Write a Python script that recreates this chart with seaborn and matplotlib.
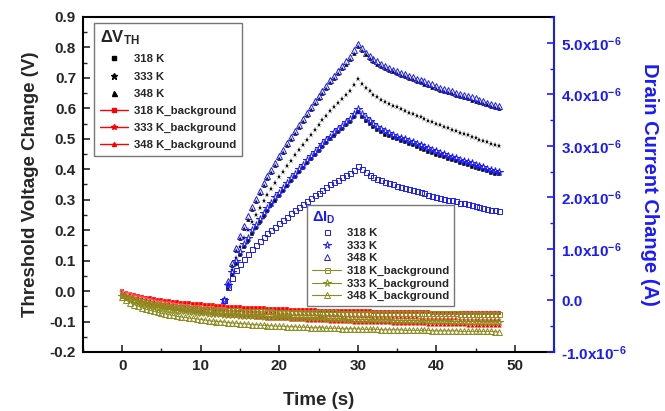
import numpy as np
import matplotlib
matplotlib.use("Agg")
import matplotlib.pyplot as plt
from matplotlib.lines import Line2D
from matplotlib.ticker import MultipleLocator, FuncFormatter
import seaborn as sns

# time grid of the measurement (s), one sample every 0.5 s
time_s = np.arange(0, 48.5, 0.5)
time_id = time_s[26:]          # drain current data starts at 13 s

# threshold voltage change (V)
vth_318 = [
    0.000, -0.007, -0.012, -0.016, -0.020, -0.023, -0.026, -0.028, -0.030, -0.032,
    -0.034, -0.036, -0.037, -0.039, -0.040, -0.042, -0.043, -0.044, -0.045, -0.047,
    -0.048, -0.049, -0.050, -0.051, -0.052, -0.053, -0.055, 0.009, 0.054, 0.089,
    0.118, 0.144, 0.166, 0.189, 0.208, 0.227, 0.247, 0.264, 0.281, 0.297,
    0.313, 0.329, 0.344, 0.360, 0.375, 0.390, 0.405, 0.419, 0.433, 0.446,
    0.460, 0.473, 0.486, 0.498, 0.510, 0.522, 0.533, 0.544, 0.555, 0.571,
    0.587, 0.572, 0.559, 0.548, 0.538, 0.529, 0.521, 0.514, 0.508, 0.503,
    0.498, 0.493, 0.488, 0.483, 0.478, 0.473, 0.468, 0.463, 0.458, 0.453,
    0.448, 0.443, 0.439, 0.434, 0.430, 0.426, 0.421, 0.417, 0.413, 0.409,
    0.404, 0.400, 0.396, 0.393, 0.389, 0.386, 0.383,
]
vth_333 = [
    -0.002, -0.009, -0.014, -0.018, -0.022, -0.025, -0.028, -0.030, -0.032, -0.034,
    -0.036, -0.038, -0.040, -0.041, -0.043, -0.044, -0.046, -0.047, -0.048, -0.050,
    -0.051, -0.052, -0.053, -0.054, -0.055, -0.056, -0.058, 0.016, 0.068, 0.110,
    0.144, 0.174, 0.200, 0.227, 0.250, 0.272, 0.295, 0.315, 0.335, 0.354,
    0.373, 0.391, 0.410, 0.428, 0.446, 0.463, 0.481, 0.497, 0.514, 0.530,
    0.546, 0.561, 0.576, 0.590, 0.604, 0.618, 0.632, 0.644, 0.657, 0.676,
    0.695, 0.680, 0.667, 0.656, 0.645, 0.636, 0.628, 0.620, 0.614, 0.608,
    0.603, 0.597, 0.592, 0.586, 0.581, 0.575, 0.570, 0.565, 0.559, 0.554,
    0.549, 0.544, 0.539, 0.534, 0.529, 0.525, 0.520, 0.515, 0.511, 0.506,
    0.502, 0.497, 0.493, 0.488, 0.484, 0.480, 0.476,
]
vth_348 = [
    -0.004, -0.011, -0.016, -0.021, -0.025, -0.028, -0.031, -0.034, -0.036, -0.038,
    -0.040, -0.042, -0.044, -0.046, -0.047, -0.049, -0.050, -0.052, -0.053, -0.054,
    -0.055, -0.056, -0.057, -0.058, -0.059, -0.060, -0.060, 0.027, 0.087, 0.135,
    0.174, 0.208, 0.238, 0.269, 0.295, 0.321, 0.347, 0.370, 0.392, 0.414,
    0.436, 0.457, 0.478, 0.499, 0.520, 0.539, 0.559, 0.578, 0.597, 0.616,
    0.634, 0.651, 0.668, 0.685, 0.701, 0.717, 0.732, 0.747, 0.762, 0.783,
    0.805, 0.790, 0.777, 0.766, 0.756, 0.747, 0.739, 0.732, 0.726, 0.721,
    0.716, 0.711, 0.706, 0.701, 0.696, 0.691, 0.686, 0.681, 0.676, 0.671,
    0.666, 0.661, 0.657, 0.653, 0.649, 0.645, 0.641, 0.637, 0.633, 0.629,
    0.625, 0.621, 0.617, 0.613, 0.609, 0.605, 0.601,
]

# threshold voltage change, background (V)
vth_bg_318 = [
    0.000, -0.005, -0.009, -0.013, -0.016, -0.019, -0.022, -0.024, -0.026, -0.028,
    -0.030, -0.032, -0.033, -0.035, -0.036, -0.038, -0.039, -0.040, -0.042, -0.043,
    -0.044, -0.045, -0.046, -0.047, -0.048, -0.049, -0.050, -0.051, -0.052, -0.052,
    -0.053, -0.054, -0.055, -0.055, -0.056, -0.057, -0.057, -0.058, -0.058, -0.059,
    -0.059, -0.060, -0.060, -0.061, -0.061, -0.062, -0.062, -0.062, -0.063, -0.063,
    -0.064, -0.064, -0.064, -0.065, -0.065, -0.065, -0.066, -0.066, -0.066, -0.066,
    -0.067, -0.067, -0.067, -0.067, -0.068, -0.068, -0.068, -0.068, -0.069, -0.069,
    -0.069, -0.069, -0.069, -0.070, -0.070, -0.070, -0.070, -0.070, -0.070, -0.071,
    -0.071, -0.071, -0.071, -0.071, -0.071, -0.071, -0.072, -0.072, -0.072, -0.072,
    -0.072, -0.072, -0.072, -0.072, -0.073, -0.073, -0.073,
]
vth_bg_333 = [
    -0.003, -0.009, -0.014, -0.019, -0.023, -0.027, -0.030, -0.033, -0.036, -0.038,
    -0.040, -0.042, -0.044, -0.046, -0.048, -0.049, -0.051, -0.052, -0.054, -0.055,
    -0.057, -0.058, -0.059, -0.060, -0.061, -0.062, -0.063, -0.064, -0.065, -0.066,
    -0.067, -0.068, -0.069, -0.069, -0.070, -0.071, -0.072, -0.072, -0.073, -0.073,
    -0.075, -0.076, -0.076, -0.077, -0.078, -0.078, -0.079, -0.079, -0.080, -0.080,
    -0.081, -0.081, -0.082, -0.082, -0.083, -0.083, -0.084, -0.084, -0.084, -0.085,
    -0.085, -0.086, -0.086, -0.086, -0.087, -0.087, -0.087, -0.088, -0.088, -0.088,
    -0.089, -0.089, -0.089, -0.090, -0.090, -0.090, -0.091, -0.091, -0.091, -0.092,
    -0.092, -0.092, -0.092, -0.093, -0.093, -0.093, -0.094, -0.094, -0.094, -0.094,
    -0.095, -0.095, -0.095, -0.095, -0.096, -0.096, -0.096,
]
vth_bg_348 = [
    -0.006, -0.013, -0.019, -0.024, -0.029, -0.033, -0.037, -0.040, -0.043, -0.046,
    -0.048, -0.051, -0.053, -0.055, -0.057, -0.059, -0.061, -0.063, -0.064, -0.066,
    -0.068, -0.069, -0.070, -0.072, -0.073, -0.074, -0.075, -0.077, -0.078, -0.079,
    -0.080, -0.081, -0.082, -0.083, -0.084, -0.085, -0.086, -0.087, -0.087, -0.088,
    -0.089, -0.090, -0.090, -0.091, -0.092, -0.092, -0.093, -0.094, -0.094, -0.095,
    -0.095, -0.096, -0.096, -0.097, -0.097, -0.098, -0.098, -0.099, -0.099, -0.100,
    -0.100, -0.101, -0.101, -0.101, -0.102, -0.102, -0.103, -0.103, -0.103, -0.104,
    -0.104, -0.104, -0.105, -0.105, -0.105, -0.106, -0.106, -0.106, -0.107, -0.107,
    -0.107, -0.108, -0.108, -0.108, -0.108, -0.109, -0.109, -0.109, -0.110, -0.110,
    -0.110, -0.110, -0.111, -0.111, -0.111, -0.112, -0.112,
]

# drain current change (uA), from 13 s on
id_318 = [
    0.00, 0.26, 0.44, 0.59, 0.70, 0.81, 0.90, 0.99, 1.07, 1.15,
    1.23, 1.30, 1.37, 1.43, 1.50, 1.56, 1.62, 1.69, 1.75, 1.81,
    1.87, 1.93, 1.98, 2.04, 2.09, 2.15, 2.20, 2.25, 2.30, 2.34,
    2.39, 2.44, 2.48, 2.54, 2.61, 2.55, 2.49, 2.44, 2.40, 2.36,
    2.33, 2.30, 2.27, 2.25, 2.23, 2.20, 2.18, 2.16, 2.14, 2.12,
    2.10, 2.08, 2.05, 2.03, 2.01, 1.99, 1.97, 1.95, 1.94, 1.92,
    1.90, 1.89, 1.87, 1.85, 1.83, 1.82, 1.80, 1.78, 1.76, 1.75,
    1.73,
]
id_333 = [
    0.00, 0.29, 0.56, 0.77, 0.94, 1.09, 1.22, 1.36, 1.47, 1.58,
    1.70, 1.80, 1.90, 2.00, 2.09, 2.19, 2.27, 2.37, 2.46, 2.55,
    2.63, 2.72, 2.80, 2.88, 2.96, 3.04, 3.11, 3.18, 3.26, 3.33,
    3.39, 3.46, 3.52, 3.62, 3.71, 3.62, 3.54, 3.48, 3.42, 3.37,
    3.32, 3.28, 3.24, 3.21, 3.18, 3.15, 3.13, 3.10, 3.07, 3.04,
    3.01, 2.98, 2.95, 2.92, 2.89, 2.86, 2.84, 2.81, 2.78, 2.76,
    2.73, 2.71, 2.68, 2.66, 2.63, 2.60, 2.58, 2.56, 2.54, 2.52,
    2.50,
]
id_348 = [
    0.00, 0.38, 0.73, 1.02, 1.25, 1.45, 1.63, 1.81, 1.96, 2.12,
    2.27, 2.41, 2.54, 2.67, 2.80, 2.92, 3.05, 3.17, 3.29, 3.41,
    3.52, 3.64, 3.75, 3.86, 3.97, 4.07, 4.17, 4.27, 4.36, 4.46,
    4.55, 4.64, 4.72, 4.85, 4.98, 4.89, 4.81, 4.75, 4.69, 4.64,
    4.59, 4.55, 4.51, 4.48, 4.45, 4.42, 4.39, 4.36, 4.33, 4.30,
    4.28, 4.25, 4.22, 4.19, 4.16, 4.13, 4.10, 4.08, 4.06, 4.03,
    4.01, 3.99, 3.96, 3.94, 3.92, 3.89, 3.87, 3.84, 3.82, 3.80,
    3.77,
]

# drain current change, background (uA)
id_bg_318 = [
    0.10, 0.07, 0.04, 0.02, 0.00, -0.02, -0.03, -0.05, -0.06, -0.07,
    -0.08, -0.09, -0.10, -0.11, -0.12, -0.12, -0.13, -0.14, -0.14, -0.15,
    -0.16, -0.16, -0.17, -0.17, -0.18, -0.18, -0.18, -0.19, -0.19, -0.19,
    -0.20, -0.20, -0.20, -0.20, -0.21, -0.21, -0.21, -0.21, -0.21, -0.22,
    -0.22, -0.22, -0.22, -0.22, -0.22, -0.22, -0.23, -0.23, -0.23, -0.23,
    -0.23, -0.23, -0.23, -0.23, -0.23, -0.24, -0.24, -0.24, -0.24, -0.24,
    -0.24, -0.24, -0.24, -0.24, -0.24, -0.24, -0.24, -0.24, -0.25, -0.25,
    -0.25, -0.25, -0.25, -0.25, -0.25, -0.25, -0.25, -0.25, -0.25, -0.25,
    -0.25, -0.25, -0.25, -0.25, -0.25, -0.25, -0.26, -0.26, -0.26, -0.26,
    -0.26, -0.26, -0.26, -0.26, -0.26, -0.26, -0.26,
]
id_bg_333 = [
    0.08, 0.04, 0.00, -0.03, -0.05, -0.07, -0.09, -0.11, -0.13, -0.14,
    -0.15, -0.16, -0.18, -0.19, -0.20, -0.21, -0.21, -0.22, -0.23, -0.24,
    -0.24, -0.25, -0.26, -0.26, -0.27, -0.27, -0.28, -0.28, -0.29, -0.29,
    -0.30, -0.30, -0.30, -0.31, -0.31, -0.31, -0.32, -0.32, -0.32, -0.33,
    -0.33, -0.33, -0.33, -0.34, -0.34, -0.34, -0.34, -0.35, -0.35, -0.35,
    -0.35, -0.35, -0.36, -0.36, -0.36, -0.36, -0.36, -0.37, -0.37, -0.37,
    -0.37, -0.37, -0.37, -0.38, -0.38, -0.38, -0.38, -0.38, -0.38, -0.39,
    -0.39, -0.39, -0.39, -0.39, -0.39, -0.39, -0.40, -0.40, -0.40, -0.40,
    -0.40, -0.40, -0.40, -0.40, -0.41, -0.41, -0.41, -0.41, -0.41, -0.41,
    -0.41, -0.41, -0.42, -0.42, -0.42, -0.42, -0.42,
]
id_bg_348 = [
    0.06, 0.01, -0.04, -0.08, -0.11, -0.14, -0.17, -0.19, -0.21, -0.23,
    -0.25, -0.26, -0.28, -0.29, -0.31, -0.32, -0.33, -0.34, -0.35, -0.36,
    -0.37, -0.38, -0.39, -0.40, -0.41, -0.41, -0.42, -0.43, -0.44, -0.44,
    -0.45, -0.45, -0.46, -0.47, -0.47, -0.48, -0.48, -0.49, -0.49, -0.50,
    -0.50, -0.50, -0.51, -0.51, -0.51, -0.52, -0.52, -0.52, -0.53, -0.53,
    -0.53, -0.53, -0.54, -0.54, -0.54, -0.54, -0.55, -0.55, -0.55, -0.55,
    -0.55, -0.56, -0.56, -0.56, -0.56, -0.56, -0.57, -0.57, -0.57, -0.57,
    -0.57, -0.57, -0.58, -0.58, -0.58, -0.58, -0.58, -0.58, -0.58, -0.59,
    -0.59, -0.59, -0.59, -0.59, -0.59, -0.59, -0.60, -0.60, -0.60, -0.60,
    -0.60, -0.60, -0.60, -0.60, -0.60, -0.61, -0.61,
]

temps = ["318 K", "333 K", "348 K"]
markers = ["s", "*", "^"]
msizes = [3.0, 4.8, 3.6]

sns.set_theme(style="ticks")
plt.rcParams["font.family"] = ["Liberation Sans", "DejaVu Sans"]
plt.rcParams["font.weight"] = "bold"
plt.rcParams["mathtext.fontset"] = "custom"
plt.rcParams["mathtext.bf"] = "Liberation Sans:bold"
plt.rcParams["mathtext.rm"] = "Liberation Sans:bold"
plt.rcParams["mathtext.it"] = "Liberation Sans:bold"
plt.rcParams["mathtext.default"] = "bf"

BLUE = "#1a1aff"
OLIVE = "#8c8c1e"
RED = "#ff0000"

fig = plt.figure(figsize=(6.65, 4.11), dpi=100)
ax = fig.add_axes([0.1248, 0.1436, 0.7083, 0.8151])
ax2 = ax.twinx()

vth = [vth_318, vth_333, vth_348]
vth_bg = [vth_bg_318, vth_bg_333, vth_bg_348]
id_main = [id_318, id_333, id_348]
id_bg = [id_bg_318, id_bg_333, id_bg_348]

for i in range(3):
    sns.lineplot(x=time_s, y=vth[i], ax=ax, color="black", marker=markers[i],
                 markersize=msizes[i], markeredgewidth=0.3, linestyle="none",
                 estimator=None, legend=False)
for i in range(3):
    sns.lineplot(x=time_s, y=vth_bg[i], ax=ax, color=RED, lw=1.0,
                 marker=markers[i], markersize=msizes[i] * 0.9,
                 markeredgewidth=0.2, estimator=None, legend=False)

for i in range(3):
    sns.lineplot(x=time_id, y=np.array(id_main[i]) * 1e-6, ax=ax2, color=BLUE,
                 marker=markers[i], markersize=msizes[i] + 0.6,
                 markerfacecolor="none", markeredgecolor=BLUE,
                 markeredgewidth=0.7, linestyle="none",
                 estimator=None, legend=False)
for i in range(3):
    sns.lineplot(x=time_s, y=np.array(id_bg[i]) * 1e-6, ax=ax2, color=OLIVE,
                 lw=0.7, marker=markers[i], markersize=msizes[i] + 0.6,
                 markerfacecolor="none", markeredgecolor=OLIVE,
                 markeredgewidth=0.7, estimator=None, legend=False)

ax.set_xlim(-5, 55)
ax.set_ylim(-0.2, 0.9)
ax2.set_ylim(-1.0e-6, 5.5e-6)

ax.xaxis.set_major_locator(MultipleLocator(10))
ax.xaxis.set_minor_locator(MultipleLocator(5))
ax.yaxis.set_major_locator(MultipleLocator(0.1))
ax.yaxis.set_minor_locator(MultipleLocator(0.05))
ax.yaxis.set_major_formatter(FuncFormatter(lambda v, p: f"{v:.1f}"))
ax2.yaxis.set_major_locator(MultipleLocator(1e-6))
ax2.yaxis.set_minor_locator(MultipleLocator(0.5e-6))


def id_fmt(v, pos):
    if abs(v) < 1e-12:
        return "0.0"
    return f"{v / 1e-6:.1f}x10$^{{-6}}$"


ax2.yaxis.set_major_formatter(FuncFormatter(id_fmt))

ax.tick_params(axis="both", which="major", direction="in", length=5, width=1.2,
               labelsize=11, pad=5)
ax.tick_params(axis="both", which="minor", direction="in", length=3, width=1.0)
ax.tick_params(axis="x", top=False, which="both")
ax2.tick_params(axis="y", which="major", direction="in", length=5, width=1.2,
                labelsize=11, colors=BLUE, pad=5)
ax2.tick_params(axis="y", which="minor", direction="in", length=3, width=1.0,
                colors=BLUE)

for side in ["left", "bottom", "top"]:
    ax.spines[side].set_linewidth(1.5)
    ax.spines[side].set_color("black")
    ax2.spines[side].set_visible(False)
ax.spines["right"].set_visible(False)
ax2.spines["right"].set_color(BLUE)
ax2.spines["right"].set_linewidth(1.5)

for lab in ax.get_xticklabels() + ax.get_yticklabels():
    lab.set_fontweight("bold")
for lab in ax2.get_yticklabels():
    lab.set_fontweight("bold")

ax.set_xlabel("Time (s)", fontsize=13.5, fontweight="bold", labelpad=14)
ax.set_ylabel("Threshold Voltage Change (V)", fontsize=13.5, fontweight="bold",
              labelpad=8)
ax2.set_ylabel("Drain Current Change (A)", fontsize=14.5, fontweight="bold",
               color=BLUE, rotation=270, labelpad=23)

# legend for threshold voltage
h1 = [Line2D([], [], ls="none", marker=markers[i], ms=msizes[i], color="black")
      for i in range(3)]
h1 += [Line2D([], [], color=RED, lw=1.0, marker=markers[i], ms=msizes[i] * 0.8)
       for i in range(3)]
l1 = temps + [t + "_background" for t in temps]
leg1 = ax2.legend(h1, l1, loc="upper left", bbox_to_anchor=(0.023, 0.982),
                  borderaxespad=0, title=r"$\Delta$V$_{TH}$", alignment="left",
                  fontsize=8.2, title_fontsize=12, frameon=True, fancybox=False,
                  edgecolor="#777777", framealpha=1, handlelength=2.5,
                  labelspacing=0.62, borderpad=0.5, handletextpad=0.5)
leg1.get_frame().set_linewidth(1.0)
ax2.add_artist(leg1)

# legend for drain current
h2 = [Line2D([], [], ls="none", marker=markers[i], ms=msizes[i] + 0.6,
             markerfacecolor="none", markeredgecolor=BLUE, mew=0.7)
      for i in range(3)]
h2 += [Line2D([], [], color=OLIVE, lw=0.8, marker=markers[i], ms=msizes[i] + 0.6,
              markerfacecolor="none", markeredgecolor=OLIVE, mew=0.7)
       for i in range(3)]
leg2 = ax2.legend(h2, l1, loc="upper left", bbox_to_anchor=(0.476, 0.439),
                  borderaxespad=0, title=r"$\Delta$I$_{D}$", alignment="left",
                  fontsize=8.2, title_fontsize=10.5, frameon=True, fancybox=False,
                  edgecolor="#777777", framealpha=1, handlelength=2.6,
                  labelspacing=0.22, borderpad=0.4, handletextpad=0.5)
leg2.get_frame().set_linewidth(1.0)
leg2.get_title().set_color(BLUE)

fig.savefig("out.png", dpi=100)
